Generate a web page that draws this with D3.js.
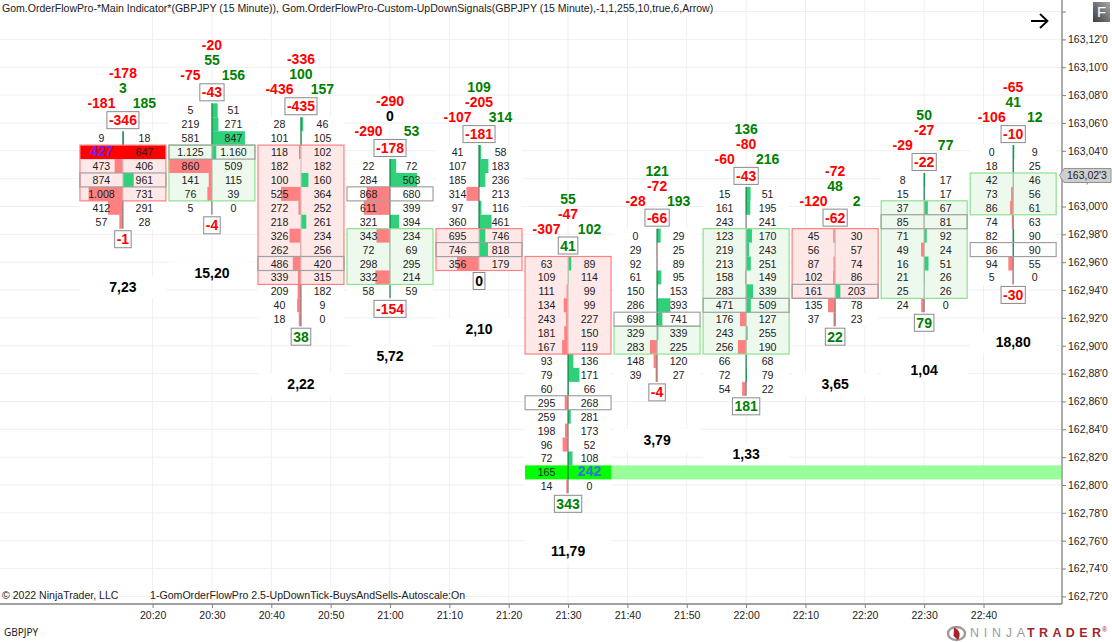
<!DOCTYPE html>
<html>
<head>
<meta charset="utf-8">
<title>GBPJPY order flow</title>
<script src="https://cdn.jsdelivr.net/npm/d3@7"></script>
<style>
  html, body { margin: 0; padding: 0; background: #fff; }
  svg { display: block; }
  text { font-family: "Liberation Sans", Arial, sans-serif; }
</style>
</head>
<body>
<div id="chart"></div>
<script>
// bar data, one entry per 15 minute bar
var barTimes = ["20:15","20:30","20:45","21:00","21:15","21:30","21:45","22:00","22:15","22:30","22:45"];
var topPrices = [163.05,163.07,163.06,163.03,163.04,162.96,162.98,163.01,162.98,163.02,163.04];

var bids = [
  [9,427,473,874,1008,412,57],
  [5,219,581,1125,860,141,76,5],
  [28,101,118,182,100,525,272,218,326,262,486,339,209,40,18],
  [22,284,868,611,321,343,72,298,332,58],
  [41,107,185,314,97,360,695,746,356],
  [63,109,111,134,243,181,167,93,79,60,295,259,198,96,72,165,14],
  [0,29,92,61,150,286,698,329,283,148,39],
  [15,161,243,123,219,213,158,283,471,176,243,256,66,72,54],
  [45,56,87,102,161,135,37],
  [8,15,37,85,71,49,16,21,25,24],
  [0,18,42,73,86,74,82,86,94,5]
];
var asks = [
  [18,647,406,961,731,291,28],
  [51,271,847,1160,509,115,39,0],
  [46,105,102,182,160,364,252,261,234,256,420,315,182,9,0],
  [72,503,680,399,394,234,69,295,214,59],
  [58,183,236,213,116,461,746,818,179],
  [89,114,99,99,227,150,119,136,171,66,268,281,173,52,108,242,0],
  [29,25,89,95,153,393,741,339,225,120,27],
  [51,195,241,170,243,251,149,339,509,127,255,190,68,79,22],
  [30,57,74,86,203,78,23],
  [17,17,67,81,92,24,51,26,26,0],
  [9,25,46,56,61,63,90,90,55,0]
];

// row index ranges of the shaded box, its colour, the grey outlined row
var boxFirst = [1,3,2,5,6,0,7,3,0,2,2];
var boxLast  = [4,6,11,8,8,6,8,11,4,8,4];
var boxDir   = ["down","up","down","up","down","down","up","up","down","up","up"];
var greyRow  = [3,3,10,2,7,10,6,8,4,3,7];
// extreme row of the session
var extremeRow  = [1,-1,-1,-1,-1,15,-1,-1,-1,-1,-1];
var extremeSide = ["bid","","","","","ask","","","","",""];

// the stacked numbers over and under each bar
var labelTop   = [-178,-20,-336,-290,109,55,121,136,-72,50,-65];
var labelMid   = [3,55,100,0,-205,-47,-72,-80,48,-27,41];
var labelLeft  = [-181,-75,-436,-290,-107,-307,-28,-60,-120,-29,-106];
var labelRight = [185,156,157,53,314,102,193,216,2,77,12];
var boxAbove   = [-346,-43,-435,-178,-181,41,-66,-43,-62,-22,-10];
var boxBelow   = [-1,-4,38,-154,0,343,-4,181,22,79,-30];
var bottomNums = [7.23,15.20,2.22,5.72,2.10,11.79,3.79,1.33,3.65,1.04,18.80];

var timeTicks = ["20:20","20:30","20:40","20:50","21:00","21:10","21:20","21:30","21:40","21:50","22:00","22:10","22:20","22:30","22:40"];
var priceTicks = [163.14,163.12,163.10,163.08,163.06,163.04,163.02,163.00,162.98,162.96,162.94,162.92,162.90,162.88,162.86,162.84,162.82,162.80,162.78,162.76,162.74,162.72];
var lastPrice = 163.023;
var lastPriceLabel = "163,02'3";

var width = 1112, height = 642;
var plotRight = 1062, plotBottom = 604;
var halfBar = 43, halfText = 21.5;
var rowOffset = 1.3, rowHeight = 14;

var parseTime = d3.timeParse("%H:%M");
var x = d3.scaleTime()
  .domain([parseTime("20:20"), parseTime("22:40")])
  .range([152.6, 983.5]);
var y = d3.scaleLinear().domain([162.72, 163.12]).range([596.4, 39.4]);
var deltaWidth = d3.scaleLinear().domain([0, 1000]).range([0, 124]);

var loc = d3.formatLocale({ decimal: ",", thousands: ".", grouping: [3], currency: ["", ""] });
var fmtCell = loc.format(",d");
var fmtRatio = loc.format(".2f");
var fmtPrice = loc.format(".2f");

function signColor(v) { return v > 0 ? "#008000" : v < 0 ? "#ff0000" : "#000"; }
function rowMid(b, r) { return y(topPrices[b] - r * 0.01) + rowOffset; }

var svg = d3.select("#chart").append("svg").attr("width", width).attr("height", height);
svg.append("defs").append("linearGradient").attr("id", "fbtn")
  .attr("x1", 1).attr("y1", 0).attr("x2", 0).attr("y2", 1)
  .selectAll("stop").data([["0%", "#a8a8a8"], ["100%", "#3c3c3c"]]).enter().append("stop")
  .attr("offset", function (d) { return d[0]; })
  .attr("stop-color", function (d) { return d[1]; });

// grid
var grid = svg.append("g");
grid.selectAll("line.v").data(timeTicks).enter().append("line")
  .attr("x1", function (d) { return x(parseTime(d)); })
  .attr("x2", function (d) { return x(parseTime(d)); })
  .attr("y1", 0).attr("y2", plotBottom).attr("stroke", "#f0f0f0");
grid.selectAll("line.h").data(priceTicks).enter().append("line")
  .attr("x1", 0).attr("x2", plotRight)
  .attr("y1", function (d) { return y(d); })
  .attr("y2", function (d) { return y(d); }).attr("stroke", "#f0f0f0");

// axes
var xAxis = d3.axisBottom(x)
  .tickValues(timeTicks.map(parseTime))
  .tickFormat(d3.timeFormat("%H:%M")).tickSize(4).tickPadding(4);
var xg = svg.append("g").attr("transform", "translate(0," + plotBottom + ")").call(xAxis);
xg.select(".domain").remove();
xg.selectAll("text").attr("font-size", 10.5).attr("fill", "#222").style("font-family", "Liberation Sans");
xg.selectAll("line").attr("stroke", "#808080");

var yAxis = d3.axisRight(y)
  .tickValues(priceTicks)
  .tickFormat(function (d) { return d > 163.13 ? "" : fmtPrice(d) + "'0"; })
  .tickSize(4).tickPadding(2);
var yg = svg.append("g").attr("transform", "translate(" + plotRight + ",0)").call(yAxis);
yg.select(".domain").remove();
yg.selectAll("text").attr("font-size", 10.5).attr("fill", "#222").style("font-family", "Liberation Sans");
yg.selectAll("line").attr("stroke", "#808080");

svg.append("line").attr("x1", plotRight).attr("x2", plotRight).attr("y1", 0).attr("y2", plotBottom)
  .attr("stroke", "#808080").attr("stroke-width", 1.3);
svg.append("line").attr("x1", 0).attr("x2", plotRight).attr("y1", plotBottom).attr("y2", plotBottom)
  .attr("stroke", "#808080").attr("stroke-width", 1.3);

// last price marker
var lpy = y(lastPrice) + 1;
svg.append("path")
  .attr("d", "M1059.5 " + lpy + "L1064 " + (lpy - 7) + "H1111V" + (lpy + 7) + "H1064Z")
  .attr("fill", "#cfcfcf").attr("stroke", "#909090");
svg.append("text").attr("x", 1067).attr("y", lpy + 4).attr("font-size", 10.5).attr("fill", "#222").text(lastPriceLabel);

// extended level from the extreme row of a bar
extremeRow.forEach(function (r, b) {
  if (r < 0 || extremeSide[b] !== "ask") return;
  var cx = x(parseTime(barTimes[b]));
  svg.append("rect").attr("x", cx + halfBar).attr("width", plotRight - 1 - cx - halfBar)
    .attr("y", rowMid(b, r) - rowHeight / 2).attr("height", rowHeight).attr("fill", "#99ff99");
});

// one group per bar
var bars = svg.selectAll("g.bar").data(barTimes).enter().append("g").attr("class", "bar");

bars.each(function (t, b) {
  var g = d3.select(this);
  var cx = x(parseTime(t));
  var n = bids[b].length;
  var up = boxDir[b] === "up";
  var rows = d3.range(n);

  // white under the rows so the grid does not run through them
  g.append("rect").attr("x", cx - halfBar).attr("width", halfBar * 2)
    .attr("y", rowMid(b, 0) - rowHeight / 2).attr("height", rowHeight * n).attr("fill", "#fff");

  // shaded box
  var bt = rowMid(b, boxFirst[b]) - rowHeight / 2;
  var bb = rowMid(b, boxLast[b]) + rowHeight / 2;
  g.append("rect").attr("x", cx - halfBar).attr("width", halfBar * 2)
    .attr("y", bt).attr("height", bb - bt)
    .attr("fill", up ? "#eef9ee" : "#ffe8e8");

  // extreme row fill
  if (extremeRow[b] >= 0) {
    g.append("rect").attr("x", cx - halfBar).attr("width", halfBar * 2)
      .attr("y", rowMid(b, extremeRow[b]) - rowHeight / 2).attr("height", rowHeight)
      .attr("fill", extremeSide[b] === "bid" ? "#ff0000" : "#00ff00");
  }

  // delta bars
  g.selectAll("rect.delta").data(rows.filter(function (r) {
    return r !== extremeRow[b] && asks[b][r] !== bids[b][r];
  })).enter().append("rect").attr("class", "delta")
    .attr("x", function (r) {
      var d = asks[b][r] - bids[b][r];
      return d > 0 ? cx : cx - deltaWidth(-d);
    })
    .attr("width", function (r) { return deltaWidth(Math.abs(asks[b][r] - bids[b][r])); })
    .attr("y", function (r) { return rowMid(b, r) - rowHeight / 2; })
    .attr("height", rowHeight)
    .attr("fill", function (r) { return asks[b][r] > bids[b][r] ? "#2fd07a" : "#ff8080"; });

  // centre line, a segment per row (none across a red extreme row)
  g.selectAll("line.mid").data(rows.filter(function (r) {
    return !(r === extremeRow[b] && extremeSide[b] === "bid");
  })).enter().append("line").attr("class", "mid")
    .attr("x1", cx).attr("x2", cx)
    .attr("y1", function (r) { return rowMid(b, r) - rowHeight / 2; })
    .attr("y2", function (r) { return rowMid(b, r) + rowHeight / 2; })
    .attr("stroke-width", 1.2)
    .attr("stroke", function (r) {
      if (r >= boxFirst[b] && r <= boxLast[b]) return up ? "#a8b8a8" : "#cfc0c0";
      return asks[b][r] > bids[b][r] ? "#167a45" : "#808080";
    });

  // box border and grey row
  g.append("rect").attr("x", cx - halfBar).attr("width", halfBar * 2)
    .attr("y", bt).attr("height", bb - bt).attr("fill", "none")
    .attr("stroke", up ? "#90e090" : "#ff8080").attr("stroke-width", 1.2);
  g.append("rect").attr("x", cx - halfBar).attr("width", halfBar * 2)
    .attr("y", rowMid(b, greyRow[b]) - rowHeight / 2).attr("height", rowHeight)
    .attr("fill", "none").attr("stroke", "#a0a0a0").attr("stroke-width", 1.2);

  // cell numbers
  g.selectAll("text.bid").data(rows).enter().append("text").attr("class", "bid")
    .attr("x", cx - halfText)
    .attr("y", function (r) { return rowMid(b, r) + 4; })
    .attr("text-anchor", "middle").attr("fill", "#222")
    .attr("font-size", function (r) { return r === extremeRow[b] && extremeSide[b] === "bid" ? 14 : 10.6; })
    .style("font-weight", function (r) { return r === extremeRow[b] && extremeSide[b] === "bid" ? "bold" : null; })
    .style("fill", function (r) { return r === extremeRow[b] && extremeSide[b] === "bid" ? "#7b22e0" : null; })
    .text(function (r) { return fmtCell(bids[b][r]); });
  g.selectAll("text.ask").data(rows).enter().append("text").attr("class", "ask")
    .attr("x", cx + halfText)
    .attr("y", function (r) { return rowMid(b, r) + 4; })
    .attr("text-anchor", "middle").attr("fill", "#222")
    .attr("font-size", function (r) { return r === extremeRow[b] && extremeSide[b] === "ask" ? 14 : 10.6; })
    .style("font-weight", function (r) { return r === extremeRow[b] && extremeSide[b] === "ask" ? "bold" : null; })
    .style("fill", function (r) { return r === extremeRow[b] && extremeSide[b] === "ask" ? "#3a6fd8" : null; })
    .text(function (r) { return fmtCell(asks[b][r]); });

  // stacked labels above
  var topY = rowMid(b, 0);
  function bold(v, px, py) {
    return g.append("text").attr("x", px).attr("y", py + 5).attr("text-anchor", "middle")
      .attr("font-size", 14).attr("font-weight", "bold").attr("fill", signColor(v)).text(v);
  }
  bold(labelTop[b], cx, topY - 65);
  bold(labelMid[b], cx, topY - 50);
  bold(labelLeft[b], cx - halfText, topY - 35);
  bold(labelRight[b], cx + halfText, topY - 35);

  // bordered labels
  function boxed(v, py) {
    var txt = bold(v, cx, py);
    var w = txt.node().getComputedTextLength() + 4;
    g.insert("rect", "text").attr("x", cx - w / 2).attr("width", w)
      .attr("y", py - 8.5).attr("height", 17)
      .attr("fill", "#fff").attr("stroke", "#8a8a8a").attr("stroke-width", 1);
  }
  var lastY = rowMid(b, n - 1);
  // bottom number with its white patch
  g.append("rect").attr("x", cx - halfBar).attr("width", halfBar * 2)
    .attr("y", lastY + 65 - 11).attr("height", 22).attr("fill", "#fff");
  g.append("text").attr("x", cx).attr("y", lastY + 70).attr("text-anchor", "middle")
    .attr("font-size", 14).attr("font-weight", "bold").attr("fill", "#000")
    .text(fmtRatio(bottomNums[b]));
  boxed(boxAbove[b], topY - 18);
  boxed(boxBelow[b], lastY + 17.5);
});

// header and footer text
svg.append("text").attr("x", 2).attr("y", 12).attr("font-size", 10.55).attr("fill", "#222")
  .text("Gom.OrderFlowPro-*Main Indicator*(GBPJPY (15 Minute)), Gom.OrderFlowPro-Custom-UpDownSignals(GBPJPY (15 Minute),-1,1,255,10,true,6,Arrow)");
svg.append("text").attr("x", 2).attr("y", 599).attr("font-size", 10.55).attr("fill", "#222").text("© 2022 NinjaTrader, LLC");
svg.append("text").attr("x", 150).attr("y", 599).attr("font-size", 10.6).attr("fill", "#222").text("1-GomOrderFlowPro 2.5-UpDownTick-BuysAndSells-Autoscale:On");
svg.append("text").attr("x", 4).attr("y", 636).attr("font-size", 10).attr("fill", "#222").style("font-family", "Noto Sans").text("GBPJPY");

// arrow and F button
svg.append("path").attr("d", "M1031 21H1047M1040 14L1047.5 21L1040 28")
  .attr("fill", "none").attr("stroke", "#000").attr("stroke-width", 1.8);
svg.append("rect").attr("x", 1093).attr("y", 2).attr("width", 17).attr("height", 20).attr("fill", "url(#fbtn)");
svg.append("text").attr("x", 1101.5).attr("y", 17).attr("text-anchor", "middle").attr("font-size", 15).attr("fill", "#fff").text("F");

// logo
var logo = svg.append("g");
logo.append("ellipse").attr("cx", 956.5).attr("cy", 633.5).attr("rx", 8.5).attr("ry", 6.5)
  .attr("fill", "none").attr("stroke", "#a09a94").attr("stroke-width", 2.4);
logo.append("path").attr("d", "M954 627.5C960 630 961 635 958 640L953.5 636Z").attr("fill", "#a3262c");
logo.append("text").attr("x", 970).attr("y", 637).attr("font-size", 12.5).attr("fill", "#9c9c9c")
  .attr("textLength", 55).attr("lengthAdjust", "spacing").text("NINJA");
logo.append("text").attr("x", 1027).attr("y", 637).attr("font-size", 12.5).attr("font-weight", "bold").attr("fill", "#a3262c")
  .attr("textLength", 74).attr("lengthAdjust", "spacing").text("TRADER");
logo.append("text").attr("x", 1102).attr("y", 632).attr("font-size", 7).attr("fill", "#a3262c").text("®");
</script>
</body>
</html>
